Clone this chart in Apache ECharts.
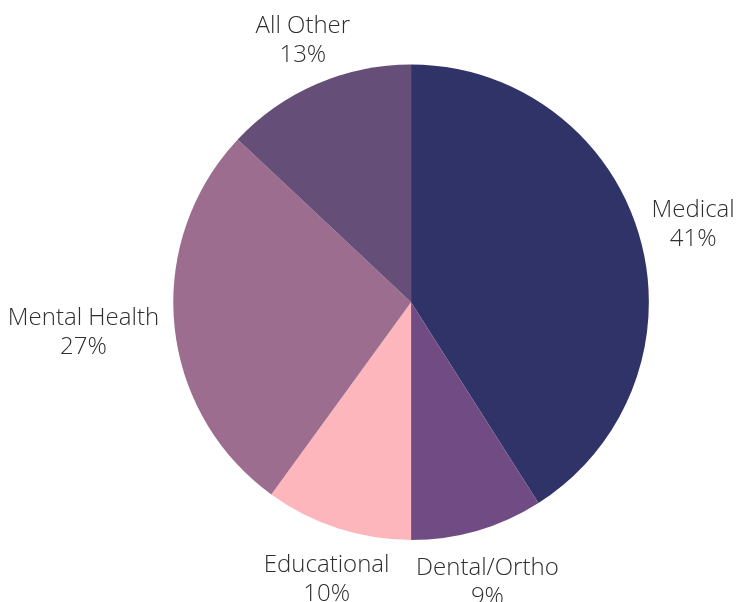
<!DOCTYPE html>
<html>
<head>
<meta charset="utf-8">
<script src="https://cdn.jsdelivr.net/npm/echarts@6/dist/echarts.min.js"></script>
<style>
  html, body { margin: 0; padding: 0; background: #fff; }
  #chart { width: 738px; height: 602px; }
</style>
</head>
<body>
<div id="chart"></div>
<script>
const categories = ['Medical', 'Dental/Ortho', 'Educational', 'Mental Health', 'All Other'];
const shares = [41, 9, 10, 27, 13];
const colors = ['#2f3368', '#714c84', '#fdb7bc', '#9c6d8f', '#654e77'];

const chart = echarts.init(document.getElementById('chart'));

// place each label just outside its slice, Excel style
function placeLabel(params) {
  const layout = chart.getModel().getSeriesByIndex(0).getData().getItemLayout(params.dataIndex);
  if (!layout) return {};
  const mid = (layout.startAngle + layout.endAngle) / 2;
  const dx = Math.cos(mid), dy = Math.sin(mid);
  const ex = layout.cx + layout.r * dx;
  const ey = layout.cy + layout.r * dy;
  const w = params.labelRect.width, h = params.labelRect.height;
  return {
    x: ex + dx * 16 + dx * Math.abs(dx) * w / 2,
    y: ey + dy * 22 + dy * h / 2 + 3,
    align: 'center',
    verticalAlign: 'middle'
  };
}

const option = {
  animation: false,
  series: [
    {
      type: 'pie',
      center: ['55.7%', '50.2%'],
      radius: '79%',
      startAngle: 90,
      clockwise: true,
      data: categories.map((name, i) => ({
        name: name,
        value: shares[i],
        itemStyle: { color: colors[i] }
      })),
      itemStyle: { borderWidth: 0 },
      label: {
        show: true,
        position: 'outside',
        formatter: '{b}\n{c}%',
        fontFamily: 'Open Sans',
        fontWeight: 300,
        fontSize: 24,
        lineHeight: 29,
        color: '#2e2e2e',
        align: 'center',
        overflow: 'none'
      },
      labelLine: { show: false },
      labelLayout: placeLabel,
      emphasis: { disabled: true }
    }
  ]
};

chart.setOption(option);
</script>
</body>
</html>
